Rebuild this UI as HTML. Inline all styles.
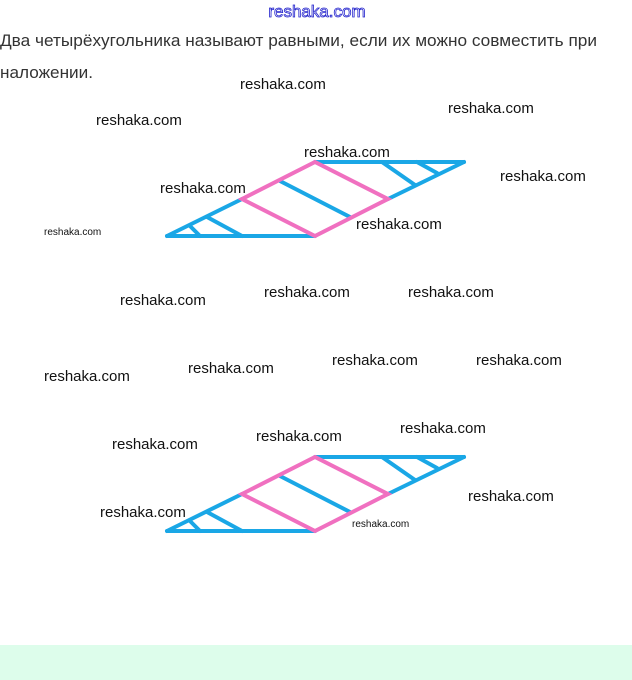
<!DOCTYPE html>
<html><head><meta charset="utf-8"><style>
html,body{margin:0;padding:0;background:#fff;width:632px;height:680px;overflow:hidden}
svg{display:block}
</style></head><body>
<svg width="632" height="680" xmlns="http://www.w3.org/2000/svg" font-family="Liberation Sans, sans-serif">
<rect x="0" y="645" width="632" height="35" fill="#ddfdeb"/>
<text x="317" y="17" font-size="17" fill="#fff" stroke="#2222cc" stroke-width="0.8" text-anchor="middle">reshaka.com</text>
<text x="0" y="46" font-size="17" fill="#333" textLength="597" lengthAdjust="spacingAndGlyphs">Два четырёхугольника называют равными, если их можно совместить при</text>
<text x="0" y="78" font-size="17" fill="#333" textLength="93" lengthAdjust="spacingAndGlyphs">наложении.</text>
<defs>
<g id="fig" stroke-width="4" fill="none" stroke-linecap="round">
<g stroke="#1aa7e6">
<line x1="167" y1="236" x2="315" y2="236"/>
<line x1="315" y1="162" x2="464" y2="162"/>
<line x1="167" y1="236" x2="242" y2="199"/>
<line x1="388" y1="199" x2="464" y2="162"/>
<line x1="280" y1="181" x2="350" y2="217"/>
<line x1="382" y1="162" x2="415" y2="185"/>
<line x1="417" y1="162" x2="437" y2="173"/>
<line x1="207" y1="217" x2="242" y2="236"/>
<line x1="190" y1="226" x2="200" y2="236"/>
</g>
<g stroke="#f070c0">
<polygon points="242,199 315,162 388,199 315,236"/>
</g>
</g>
</defs>
<use href="#fig"/>
<use href="#fig" transform="translate(0,295)"/>
<g font-size="15" fill="#111">
<text x="240" y="89">reshaka.com</text>
<text x="448" y="113">reshaka.com</text>
<text x="96" y="125">reshaka.com</text>
<text x="304" y="157">reshaka.com</text>
<text x="160" y="193">reshaka.com</text>
<text x="500" y="181">reshaka.com</text>
<text x="356" y="229">reshaka.com</text>
<text x="120" y="305">reshaka.com</text>
<text x="264" y="297">reshaka.com</text>
<text x="408" y="297">reshaka.com</text>
<text x="332" y="365">reshaka.com</text>
<text x="476" y="365">reshaka.com</text>
<text x="44" y="381">reshaka.com</text>
<text x="188" y="373">reshaka.com</text>
<text x="112" y="449">reshaka.com</text>
<text x="256" y="441">reshaka.com</text>
<text x="400" y="433">reshaka.com</text>
<text x="468" y="501">reshaka.com</text>
<text x="100" y="517">reshaka.com</text>
</g>
<g font-size="10" fill="#111">
<text x="44" y="235">reshaka.com</text>
<text x="352" y="527">reshaka.com</text>
</g>
</svg>
</body></html>
